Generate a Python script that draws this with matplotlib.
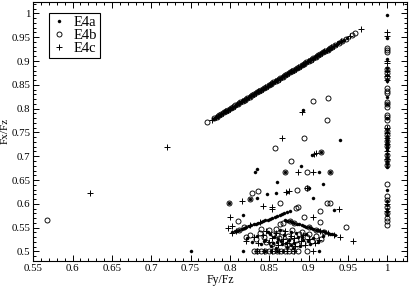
import matplotlib
matplotlib.use('Agg')
import matplotlib.pyplot as plt
from matplotlib.ticker import MultipleLocator

plt.rcParams['font.family'] = ['Liberation Serif', 'DejaVu Serif']

# ---------------- data ----------------
labels = ['E4a', 'E4b', 'E4c']

# points lying on Fx/Fz == Fy/Fz
a_diag = [0.779, 0.781, 0.783, 0.785, 0.787, 0.789, 0.792, 0.794, 0.796, 0.798,
          0.800, 0.802, 0.804, 0.806, 0.808, 0.810, 0.812, 0.814, 0.816, 0.818,
          0.820, 0.822, 0.824, 0.826, 0.828, 0.830, 0.832, 0.834, 0.836, 0.838,
          0.840, 0.842, 0.844, 0.846, 0.848, 0.850, 0.852, 0.854, 0.856, 0.858,
          0.860, 0.862, 0.864, 0.866, 0.868, 0.870, 0.872, 0.874, 0.876, 0.878,
          0.880, 0.882, 0.884, 0.886, 0.888, 0.890, 0.892, 0.894, 0.896, 0.898,
          0.900, 0.902, 0.904, 0.906, 0.908, 0.910, 0.912, 0.914, 0.916, 0.918,
          0.920, 0.922, 0.924, 0.926, 0.928, 0.930, 0.933, 0.936, 0.939, 0.942,
          0.945, 0.949]
b_diag = [0.567, 0.771, 0.780, 0.783, 0.786, 0.789, 0.792, 0.795, 0.798, 0.801,
          0.804, 0.807, 0.810, 0.813, 0.816, 0.819, 0.822, 0.825, 0.828, 0.831,
          0.834, 0.837, 0.840, 0.843, 0.846, 0.849, 0.852, 0.855, 0.858, 0.861,
          0.864, 0.867, 0.870, 0.873, 0.876, 0.879, 0.882, 0.885, 0.888, 0.891,
          0.894, 0.897, 0.900, 0.903, 0.906, 0.909, 0.912, 0.915, 0.918, 0.921,
          0.924, 0.927, 0.930, 0.934, 0.938, 0.942, 0.947, 0.955, 0.959]
c_diag = [0.622, 0.720, 0.777, 0.782, 0.785, 0.788, 0.791, 0.794, 0.797, 0.800,
          0.803, 0.806, 0.809, 0.812, 0.815, 0.818, 0.821, 0.824, 0.827, 0.830,
          0.833, 0.836, 0.839, 0.842, 0.845, 0.848, 0.851, 0.854, 0.857, 0.860,
          0.863, 0.866, 0.869, 0.872, 0.875, 0.878, 0.881, 0.884, 0.887, 0.890,
          0.893, 0.896, 0.899, 0.902, 0.905, 0.908, 0.911, 0.914, 0.917, 0.920,
          0.923, 0.926, 0.929, 0.932, 0.936, 0.941, 0.952, 0.967]

# points at Fy/Fz == 1 (Fx/Fz values)
col_fy = 1.0
a_col = [0.996, 0.949, 0.905, 0.886, 0.878, 0.870, 0.862, 0.857, 0.825, 0.810,
         0.780, 0.758, 0.750, 0.742, 0.735, 0.731, 0.728, 0.724, 0.720, 0.717,
         0.714, 0.705, 0.698, 0.690, 0.684, 0.678, 0.629, 0.605, 0.598, 0.590,
         0.583, 0.576]
b_col = [0.928, 0.923, 0.918, 0.884, 0.874, 0.866, 0.843, 0.838, 0.832, 0.814,
         0.809, 0.804, 0.787, 0.782, 0.776, 0.762, 0.754, 0.745, 0.732, 0.722,
         0.702, 0.692, 0.681, 0.641, 0.617, 0.608, 0.593, 0.580, 0.570, 0.563, 0.556]
c_col = [0.960, 0.952, 0.900, 0.895, 0.880, 0.868, 0.860, 0.760, 0.748, 0.738,
         0.725, 0.710, 0.695, 0.600, 0.586]

# other scattered points
a_fy = [0.803, 0.806, 0.809, 0.812, 0.815, 0.818, 0.821, 0.824, 0.827, 0.830,
        0.833, 0.836, 0.839, 0.842, 0.845, 0.848, 0.851, 0.854, 0.857, 0.860,
        0.863, 0.866, 0.869, 0.872, 0.876,
        0.870, 0.873, 0.876, 0.879, 0.882, 0.885, 0.888, 0.891, 0.894, 0.897,
        0.900, 0.903, 0.906, 0.909, 0.912, 0.915, 0.918, 0.921, 0.924, 0.927,
        0.930, 0.934,
        0.822, 0.828, 0.835, 0.840, 0.845, 0.848, 0.852, 0.856, 0.860, 0.863,
        0.866, 0.869, 0.872, 0.875, 0.878, 0.882, 0.886, 0.889, 0.893, 0.897,
        0.902, 0.906, 0.912, 0.918, 0.858, 0.880, 0.843, 0.851, 0.861, 0.871,
        0.884, 0.892, 0.899, 0.855, 0.865, 0.877,
        0.750, 0.816, 0.913, 0.845, 0.852, 0.860, 0.868,
        0.940, 0.904, 0.916, 0.890, 0.832, 0.835, 0.870, 0.913, 0.927, 0.860,
        0.918, 0.847, 0.859, 0.872, 0.900, 0.835, 0.799, 0.825, 0.905, 0.932,
        0.816, 0.893]
a_fx = [0.540, 0.542, 0.543, 0.545, 0.547, 0.549, 0.551, 0.553, 0.555, 0.557,
        0.558, 0.560, 0.562, 0.564, 0.566, 0.567, 0.569, 0.571, 0.573, 0.575,
        0.576, 0.578, 0.580, 0.582, 0.584,
        0.566, 0.564, 0.563, 0.561, 0.560, 0.558, 0.557, 0.555, 0.554, 0.552,
        0.551, 0.549, 0.548, 0.546, 0.545, 0.543, 0.542, 0.540, 0.539, 0.537,
        0.536, 0.534,
        0.528, 0.520, 0.533, 0.515, 0.525, 0.540, 0.512, 0.530, 0.520, 0.545,
        0.515, 0.535, 0.510, 0.525, 0.540, 0.518, 0.530, 0.512, 0.524, 0.536,
        0.516, 0.528, 0.520, 0.532, 0.508, 0.508, 0.522, 0.536, 0.527, 0.517,
        0.539, 0.531, 0.521, 0.518, 0.523, 0.514,
        0.500, 0.500, 0.500, 0.500, 0.500, 0.500, 0.500,
        0.735, 0.703, 0.709, 0.679, 0.667, 0.674, 0.666, 0.666, 0.666, 0.646,
        0.641, 0.621, 0.622, 0.624, 0.634, 0.612, 0.601, 0.610, 0.612, 0.587,
        0.577, 0.797]

b_fy = [0.826, 0.833, 0.838, 0.843, 0.850, 0.855, 0.858, 0.862, 0.866, 0.870,
        0.874, 0.879, 0.884, 0.888, 0.893, 0.898, 0.904, 0.910, 0.916, 0.863,
        0.868, 0.920, 0.846, 0.853, 0.860, 0.877, 0.891, 0.901, 0.840, 0.872,
        0.885, 0.820, 0.812, 0.818, 0.876, 0.882, 0.900, 0.910,
        0.830, 0.835, 0.840, 0.845, 0.850, 0.855, 0.860, 0.865, 0.870, 0.875,
        0.880, 0.886, 0.898,
        0.894, 0.857, 0.916, 0.877, 0.870, 0.898, 0.927, 0.828, 0.836, 0.885,
        0.898, 0.825, 0.864, 0.884, 0.886, 0.923, 0.927, 0.914, 0.810, 0.894,
        0.914, 0.947, 0.905, 0.924, 0.923, 0.799]
b_fx = [0.534, 0.526, 0.538, 0.530, 0.545, 0.536, 0.548, 0.528, 0.540, 0.522,
        0.532, 0.545, 0.524, 0.536, 0.518, 0.530, 0.522, 0.532, 0.526, 0.557,
        0.560, 0.540, 0.520, 0.516, 0.534, 0.522, 0.541, 0.536, 0.548, 0.514,
        0.516, 0.530, 0.546, 0.551, 0.563, 0.560, 0.552, 0.546,
        0.500, 0.500, 0.500, 0.500, 0.500, 0.500, 0.500, 0.500, 0.500, 0.500,
        0.500, 0.500, 0.500,
        0.739, 0.718, 0.709, 0.690, 0.666, 0.666, 0.666, 0.623, 0.628, 0.629,
        0.634, 0.610, 0.601, 0.591, 0.593, 0.601, 0.601, 0.584, 0.565, 0.572,
        0.561, 0.551, 0.815, 0.823, 0.777, 0.601]

c_fy = [0.820, 0.830, 0.836, 0.842, 0.849, 0.854, 0.861, 0.867, 0.873, 0.877,
        0.883, 0.890, 0.895, 0.900, 0.908, 0.913, 0.846, 0.858, 0.870, 0.881,
        0.893, 0.808, 0.826, 0.838, 0.915, 0.925,
        0.834, 0.843, 0.853, 0.862, 0.872, 0.882, 0.905,
        0.866, 0.907, 0.910, 0.886, 0.905, 0.871, 0.875, 0.898, 0.815, 0.842,
        0.854, 0.854, 0.938, 0.800, 0.797, 0.802, 0.803, 0.906, 0.957, 0.892,
        0.940, 0.932]
c_fx = [0.522, 0.530, 0.518, 0.535, 0.520, 0.528, 0.513, 0.527, 0.518, 0.533,
        0.512, 0.522, 0.514, 0.526, 0.518, 0.525, 0.542, 0.538, 0.544, 0.528,
        0.534, 0.543, 0.555, 0.561, 0.543, 0.538,
        0.500, 0.500, 0.500, 0.500, 0.500, 0.500, 0.500,
        0.739, 0.704, 0.706, 0.666, 0.666, 0.624, 0.626, 0.634, 0.606, 0.596,
        0.594, 0.589, 0.589, 0.572, 0.549, 0.554, 0.538, 0.572, 0.521, 0.793,
        0.531, 0.534]

series = [
    (a_diag, a_col, a_fy, a_fx),
    (b_diag, b_col, b_fy, b_fx),
    (c_diag, c_col, c_fy, c_fx),
]

styles = [
    dict(marker='o', markersize=2.2, markerfacecolor='black', markeredgecolor='black', markeredgewidth=0.3),
    dict(marker='o', markersize=3.6, markerfacecolor='none', markeredgecolor='black', markeredgewidth=0.65),
    dict(marker='+', markersize=4.8, markeredgecolor='black', markeredgewidth=0.7),
]

# ---------------- plot ----------------
fig = plt.figure(figsize=(4.09, 2.89), dpi=100)
ax = fig.add_axes([0.0814, 0.0969, 0.9136, 0.8979])

for (diag, col, fy, fx), st, lab in zip(series, styles, labels):
    xs = list(diag) + [col_fy] * len(col) + list(fy)
    ys = list(diag) + list(col) + list(fx)
    ax.plot(xs, ys, linestyle='none', label=lab, **st)

ax.set_xlim(0.55, 1.025)
ax.set_ylim(0.48, 1.025)
ax.xaxis.set_major_locator(MultipleLocator(0.05))
ax.xaxis.set_minor_locator(MultipleLocator(0.01))
ax.yaxis.set_major_locator(MultipleLocator(0.05))
ax.yaxis.set_minor_locator(MultipleLocator(0.01))
ax.xaxis.set_major_formatter(plt.FuncFormatter(lambda v, p: f'{v:g}'))
ax.yaxis.set_major_formatter(plt.FuncFormatter(lambda v, p: f'{v:g}'))
ax.tick_params(which='both', direction='in', top=True, right=True, labelsize=7.8, width=0.7, pad=2)
ax.tick_params(which='major', length=4.5)
ax.tick_params(which='minor', length=2.2)
for s in ax.spines.values():
    s.set_linewidth(0.8)

ax.set_xlabel('Fy/Fz', fontsize=8.5, labelpad=1)
ax.set_ylabel('Fx/Fz', fontsize=8)
ax.yaxis.set_label_coords(-0.062, 0.5)

leg = ax.legend(loc='upper left', bbox_to_anchor=(0.042, 0.956), borderaxespad=0,
                fancybox=False, edgecolor='black', framealpha=1, fontsize=10.5,
                handlelength=1.0, handletextpad=0.5, borderpad=0.2, labelspacing=0.0,
                numpoints=1)
leg.get_frame().set_linewidth(0.8)

fig.savefig('out.png', dpi=100)
